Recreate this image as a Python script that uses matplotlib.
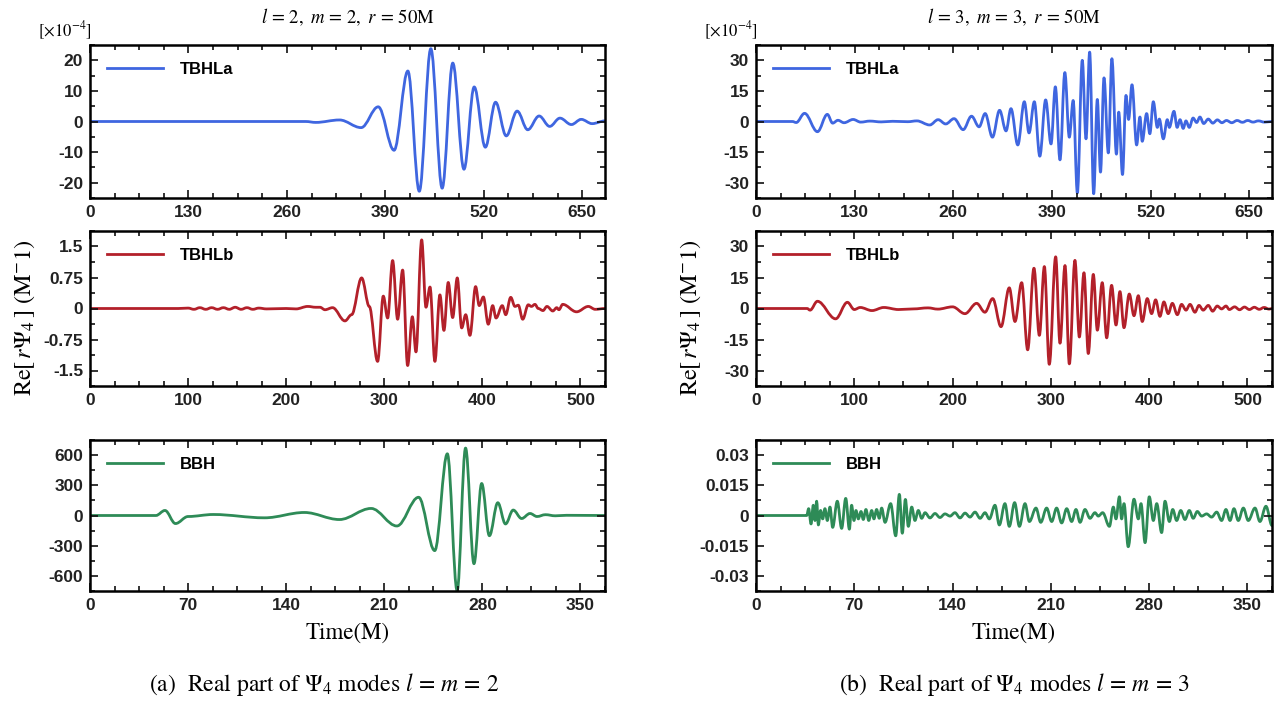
import matplotlib
matplotlib.use('Agg')
import matplotlib.pyplot as plt
from matplotlib.path import Path
from matplotlib.patches import PathPatch
from matplotlib.lines import Line2D
from matplotlib.ticker import MultipleLocator, FuncFormatter

plt.rcParams['mathtext.fontset'] = 'stix'
plt.rcParams['axes.unicode_minus'] = False

# extrema (time, value) of each waveform; l = m = 2
tbhla_l2_t = [0, 285, 298, 329.5, 358, 380.6, 401.5, 419.7, 434.8, 450, 465, 479, 493.8, 507.3, 522,
              535.5, 549.6, 564, 578, 593, 607, 620.5, 635.6, 648.6, 663, 680]
tbhla_l2_v = [0, 0, -0.3, 0.5, -2.0, 4.8, -9.4, 16.5, -22.8, 23.8, -21.8, 19.1, -15.6, 11.3, -8.4,
              6.3, -4.7, 3.4, -2.7, 1.8, -1.6, 1.1, -1.0, 0.7, -0.7, 0.2]

tbhlb_l2_t = [0, 90, 100, 106, 112, 118, 124, 130, 136, 142, 148, 154, 160, 166, 172, 180, 200, 210,
              222, 230, 234.5, 239.5, 247.3, 259.9, 266.7, 276.9, 284.7, 293.2, 299, 303.4, 308.5,
              313.6, 318.7, 323.8, 328.6, 332.3, 338.1, 342.5, 346.6, 351.6, 356.7, 360.8, 365.2,
              369.7, 374.4, 378.9, 383, 387.3, 393.1, 396.8, 401, 406, 410.5, 413.9, 420.3, 423.8,
              428.9, 433.2, 436.6, 441.1, 446.8, 450, 453.6, 457, 461.8, 465.8, 471.8, 475.8, 478,
              481.9, 496, 508, 515, 525]
tbhlb_l2_v = [0, 0, 0.01, -0.02, 0.02, -0.02, 0.02, -0.02, 0.02, -0.02, 0.03, -0.02, 0.02, -0.02,
              0.01, -0.01, 0, -0.01, 0.05, 0.03, 0.03, -0.03, 0.02, -0.3, -0.15, 0.74, 0.05, -1.28,
              0.3, -0.23, 1.16, -0.26, 0.93, -1.38, -0.2, -1.05, 1.66, 0.03, 0.52, -1.28, 0.33,
              -0.53, 0.63, -0.22, 0.74, -0.47, -0.15, -0.65, 0.53, 0.07, 0.28, -0.38, 0.07, -0.23,
              0.07, -0.15, 0.27, 0.05, 0.08, -0.26, 0.09, 0.05, 0.1, 0, -0.05, 0.05, -0.06, 0.02,
              -0.03, 0.1, -0.08, 0.05, -0.02, 0]

bbh_l2_t = [0, 47, 53.5, 61, 70, 88, 124.5, 153, 178, 200.6, 219, 234.5, 246, 255, 262, 268, 274,
            279.5, 285, 291, 296.5, 302, 308, 314, 319, 325, 332, 340, 368]
bbh_l2_v = [0, 0, 50, -80, -10, 10, -23, 30, -40, 70, -104, 181, -349, 613, -748, 670, -479,
            318, -201, 127, -84, 54, -30, 20, -10, 8, -3, 2, 0]

# l = m = 3
tbhla_l3_t = [0, 48, 53, 64, 81, 94, 101, 108, 116, 128, 138, 150, 165, 180, 200, 212, 229, 240,
              250, 261, 273, 284, 294, 302, 311.6, 321, 329.5, 336, 345, 353.6, 359.8, 366.8, 374,
              381.7, 388.8, 394.5, 400.6, 407, 412.9, 418, 423.5, 430, 434.9, 439.7, 445, 449.8,
              454, 458.6, 464.3, 469, 475, 478, 483, 487.6, 491, 495.5, 501.6, 506, 509, 514.8,
              519, 523.6, 528.9, 531.5, 536.8, 542, 544.7, 550.8, 555, 558.8, 563, 566.6, 571,
              576, 580.7, 585, 590, 596, 602, 608, 614, 620, 627, 634, 641, 648, 655, 662, 670,
              680]
tbhla_l3_v = [0, 0, -0.5, 4.0, -5.0, 3.5, -0.8, 0.6, -0.6, 1.0, -0.3, 0.2, -0.2, 0.1, -0.1, 0.3,
              -1.7, 0.9, -1.2, 1.4, -4.0, 2.6, -2.6, 3.9, -7.7, 5.5, -4.6, 6.3, -11.5, 9.7, -5.6,
              9.7, -17, 10.6, -11, 17, -18.8, 24, -7.7, 10.3, -35, 30, -8.5, 34, -35.4, 10.8,
              -24.8, 21.4, -15.4, 30.8, -16, 4.6, -26, 12.8, 1.0, 18, -11.5, 2.2, -9.7, 3.9, -6,
              9.7, -2.9, 1.2, -8.5, 0.9, -2.9, 5, -2.9, 0.9, -3.4, 0.3, -2.9, 1.7, -0.5, 2.2, -1,
              1.2, -0.8, 0.8, -0.6, 0.5, -0.6, 0.5, -0.4, 0.5, -0.3, 0.3, -0.3, 0]

tbhlb_l3_t = [0, 52, 55, 62.5, 81, 93, 100, 106, 118, 130, 145, 160, 175, 185, 200, 212.6, 224.5,
              232.9, 240.8, 249.3, 257.7, 263.5, 270.3, 276.4, 282.8, 288.3, 293.4, 298.4, 304.9,
              309.3, 314.4, 318.8, 324.5, 329, 333.7, 338.1, 343.2, 347.3, 352.3, 356.8, 361.8,
              366.3, 370.3, 374.4, 379.8, 384.6, 389, 393, 398.1, 402.5, 406.6, 411, 415, 419.4,
              423.6, 428.7, 433, 437.5, 441.6, 446.6, 450.7, 455, 460.2, 464.6, 469.3, 473.7,
              478.2, 481.6, 487, 492, 497, 502, 507, 512, 517, 522, 525]
tbhlb_l3_v = [0, 0, -0.8, 3.5, -5, 3, -0.5, 0.5, -1.0, 0.5, -0.5, -0.2, 0.3, -0.3, 0.8, -2.5, 2.5,
              -1.8, 4.8, -8.8, 10, -6.3, 12.5, -20, 19.5, -13, 20.3, -27, 25, -16.8, 20.8, -26.8,
              23.3, -13.8, 17.3, -21.8, 16.5, -10.5, 12.5, -14.2, 11.2, -8, 8.2, -9.3, 7, -3.5,
              6.2, -6.3, 4.8, -2.5, 4.2, -3.8, 3.2, -2.5, 2.5, -3, 2, -0.8, 2, -1.8, 1.5, -0.8,
              1.5, -1.3, 1.2, -0.2, 1.2, -0.5, 0.8, -0.6, 0.7, -0.5, 0.6, -0.4, 0.5, -0.3, 0]

bbh_l3_t = [0, 36.1, 37.5, 39.2, 40.8, 42.0, 43.2, 44.4, 46.0, 47.5, 49.1, 50.8, 52.7, 54.6, 57.9,
            61.0, 63.9, 66.5, 68.1, 69.8, 71.2, 72.9, 74.8, 76.4, 78.3, 80.3, 82.4, 84.0, 85.9,
            87.8, 89.5, 91.9, 95.9, 99.5, 102.1, 104.2, 106.4, 108.5, 110.9, 113.2, 115.6, 118.0,
            120.4, 123.9, 127.5, 131.0, 134.6, 138.2, 141.7, 145.3, 148.9, 152.4, 156.0, 159.6,
            163.1, 166.2, 170.2, 173.3, 177.3, 180.4, 184.2, 187.6, 191.6, 194.7, 199.4, 202.8,
            207.0, 210.6, 214.1, 217.7, 221.3, 224.8, 227.9, 230.8, 234.3, 237.9, 241.4, 243.8,
            246.9, 251.7, 254.5, 256.4, 258.8, 260.4, 262.1, 265.1, 269.2, 272.3, 274.2, 277.1,
            280.1, 283.0, 285.4, 288.9, 291.3, 294.4, 296.8, 299.6, 302.5, 305.5, 308.6, 311.4,
            314.3, 317.4, 320.9, 324.5, 328.1, 331.6, 334.7, 337.6, 340.4, 343.5, 347.1, 350.6,
            355.4, 358.9, 363.2, 367.5]
bbh_l3_v = [0, 0, 0.0034, -0.0042, 0.0051, -0.0025, 0.0071, -0.0047, 0.0025, -0.0017, 0.0034,
            -0.0025, 0.0042, -0.0059, 0.0071, -0.0064, 0.0085, -0.0068, 0.0051, -0.0025, 0.0025,
            -0.0017, 0.0020, -0.0020, 0.0030, -0.0025, 0.0025, -0.0017, 0.0030, -0.0014, 0.0037,
            -0.0034, 0.0059, -0.0101, 0.0105, -0.0088, 0.0080, -0.0054, 0.0042, -0.0025, 0.0025,
            -0.0014, 0.0014, -0.0012, 0.0010, -0.0010, 0.0008, -0.0003, 0.0014, -0.0012, 0.0012,
            -0.0008, 0.0017, -0.0014, 0.0014, -0.0017, 0.0051, -0.0047, 0.0059, -0.0054, 0.0064,
            -0.0054, 0.0059, -0.0030, 0.0037, -0.0034, 0.0037, -0.0030, 0.0037, -0.0037, 0.0034,
            -0.0030, 0.0030, -0.0034, 0.0030, -0.0014, 0.0014, -0.0003, 0.0014, -0.0054, 0.0042,
            -0.0017, 0.0093, -0.0017, 0.0059, -0.0155, 0.0081, -0.0017, 0.0059, -0.0135, 0.0093,
            -0.0025, 0.0059, -0.0085, 0.0071, -0.0030, 0.0030, -0.0025, 0.0025, -0.0020, 0.0025,
            -0.0014, 0.0020, -0.0003, 0.0008, -0.0008, 0.0017, -0.0025, 0.0030, -0.0025, 0.0034,
            -0.0025, 0.0037, -0.0025, 0.0037, -0.0030, 0.0046, -0.0050]

blue = '#3F66E0'
red = '#B3202A'
green = '#2E8B57'

# (t, v, colour, label, xmax, xstep, ymax, ystep)
panels_l2 = [
    (tbhla_l2_t, tbhla_l2_v, blue, 'TBHLa', 680, 130, 25, 10),
    (tbhlb_l2_t, tbhlb_l2_v, red, 'TBHLb', 525, 100, 1.875, 0.75),
    (bbh_l2_t, bbh_l2_v, green, 'BBH', 367.5, 70, 750, 300),
]
panels_l3 = [
    (tbhla_l3_t, tbhla_l3_v, blue, 'TBHLa', 680, 130, 37.5, 15),
    (tbhlb_l3_t, tbhlb_l3_v, red, 'TBHLb', 525, 100, 37.5, 15),
    (bbh_l3_t, bbh_l3_v, green, 'BBH', 367.5, 70, 0.0375, 0.015),
]


def wave_path(t, v, k=0.36):
    # smooth curve through the extrema, flat tangent at each turning point
    verts = [(t[0], v[0])]
    codes = [Path.MOVETO]
    for i in range(len(t) - 1):
        dt = t[i + 1] - t[i]
        verts += [(t[i] + k * dt, v[i]), (t[i + 1] - k * dt, v[i + 1]), (t[i + 1], v[i + 1])]
        codes += [Path.CURVE4] * 3
    return Path(verts, codes)


W, H = 1282, 702
fig = plt.figure(figsize=(W / 100, H / 100), dpi=100)

col_x = [(90, 605), (756, 1272)]
row_y = [(45, 198), (231, 386), (440, 591)]
tick_font = dict(family='Liberation Sans', weight='bold', size=12.5)

for (x0, x1), panels in zip(col_x, [panels_l2, panels_l3]):
    for (y0, y1), (t, v, color, label, xmax, xstep, ymax, ystep) in zip(row_y, panels):
        ax = fig.add_axes([x0 / W, 1 - y1 / H, (x1 - x0) / W, (y1 - y0) / H])
        ax.add_patch(PathPatch(wave_path(t, v), fill=False, edgecolor=color, lw=2.0,
                               capstyle='round', joinstyle='round'))
        ax.set_xlim(0, xmax)
        ax.set_ylim(-ymax, ymax)
        ax.xaxis.set_major_locator(MultipleLocator(xstep))
        ax.xaxis.set_minor_locator(MultipleLocator(xstep / 4))
        ax.yaxis.set_major_locator(MultipleLocator(ystep))
        ax.yaxis.set_minor_locator(MultipleLocator(ystep / 2))
        ax.xaxis.set_major_formatter(FuncFormatter(lambda x, p: '%g' % round(x, 6)))
        ax.yaxis.set_major_formatter(FuncFormatter(lambda y, p: '%g' % round(y, 6)))
        ax.tick_params(which='both', direction='in', top=True, right=True, width=1.2,
                       colors='#111111', pad=5)
        ax.tick_params(which='major', length=6)
        ax.tick_params(which='minor', length=3.5)
        for lab in ax.get_xticklabels() + ax.get_yticklabels():
            lab.set_fontproperties(tick_font)
            lab.set_color('#222222')
        for sp in ax.spines.values():
            sp.set_linewidth(1.8)
        handle = Line2D([], [], color=color, lw=2.0)
        ax.legend([handle], [label], loc='upper left', frameon=False, handlelength=3.4,
                  handletextpad=1.0, borderaxespad=0.6,
                  prop=dict(family='Liberation Sans', weight='bold', size=12))

    cx = (x0 + x1) / 2 / W
    n = 2 if x0 < 300 else 3
    fig.text(cx, 1 - 17 / H, r'$l\,=\,%d,\ m\,=\,%d,\ r\,=\,50\mathrm{M}$' % (n, n),
             ha='center', va='center', fontsize=13.5)
    fig.text((x0 + 2) / W, 1 - 31 / H, r'$[\times 10^{-4}]$', ha='right', va='center',
             fontsize=12)
    fig.text((x0 - 65) / W, 1 - 318 / H, r'$\mathrm{Re}[\,r\Psi_4\,]\ (\mathrm{M}^{-}1)$',
             rotation=90, ha='center', va='center', fontsize=17.5)
    fig.text(cx, 1 - 633 / H, 'Time(M)', family='STIXGeneral', ha='center', va='center',
             fontsize=16.5)
    tag = 'a' if n == 2 else 'b'
    fig.text(cx - (23 if n == 2 else 0) / W, 1 - 684 / H,
             r'(%s)  Real part of $\Psi_4$ modes $l\,=\,m\,=\,%d$' % (tag, n),
             family='STIXGeneral', ha='center', va='center', fontsize=17)

fig.savefig('out.png', dpi=100)
